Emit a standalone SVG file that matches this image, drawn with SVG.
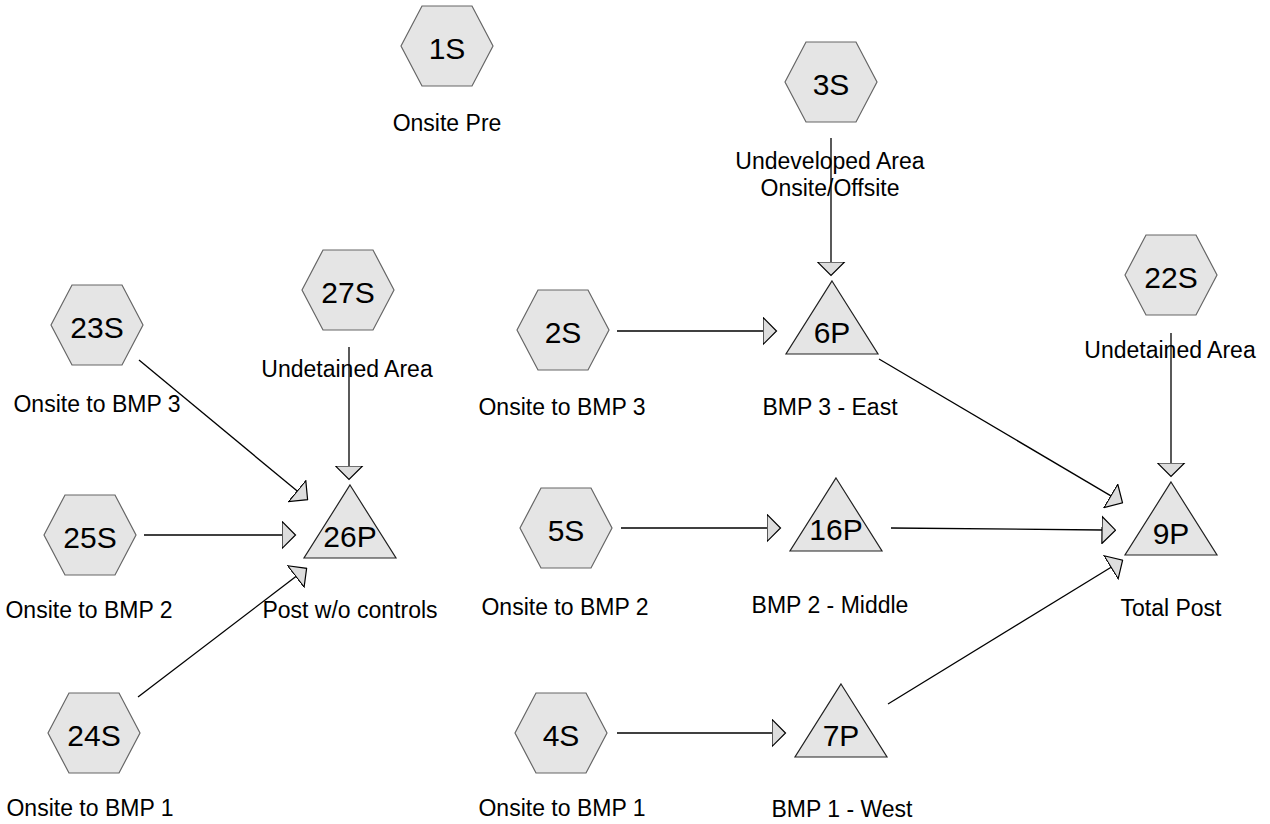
<svg xmlns="http://www.w3.org/2000/svg" width="1270" height="824" viewBox="0 0 1270 824">
<style>
.hex{fill:#e5e5e5;stroke:#666;stroke-width:1.2}
.tri{fill:#e5e5e5;stroke:#222;stroke-width:1.2}
.id{font-family:"Liberation Sans",Arial,sans-serif;font-size:30px;fill:#000;text-anchor:middle}
.lb{font-family:"Liberation Sans",Arial,sans-serif;font-size:23px;fill:#000;text-anchor:middle}
.cn{stroke:#000;stroke-width:1.3;fill:none;marker-end:url(#ah)}
</style>
<defs>
<polygon id="hx" points="-46,0 -25,-40 25,-40 46,0 25,40 -25,40"/>
<polygon id="tr" points="0,0 46,73 -46,73"/>
<marker id="ah" viewBox="0 0 15 29" refX="0.5" refY="14.5" markerWidth="15" markerHeight="29" markerUnits="userSpaceOnUse" orient="auto">
<path d="M0.5,1 L14,14.5 L0.5,28 Z" fill="#ddd" stroke="#000" stroke-width="1.2"/>
</marker>
</defs>
<rect width="1270" height="824" fill="#fff"/>
<g id="connectors">
<line class="cn" x1="349" y1="347" x2="349" y2="466"/>
<line class="cn" x1="831" y1="138" x2="831" y2="262"/>
<line class="cn" x1="1171" y1="333" x2="1171" y2="463"/>
<line class="cn" x1="139" y1="360" x2="297.2" y2="491.1"/>
<line class="cn" x1="144" y1="535" x2="282" y2="535"/>
<line class="cn" x1="138" y1="697" x2="295.9" y2="576.5"/>
<line class="cn" x1="617" y1="331" x2="763" y2="331"/>
<line class="cn" x1="621" y1="528" x2="767" y2="528"/>
<line class="cn" x1="617" y1="733" x2="772" y2="733"/>
<line class="cn" x1="879" y1="359" x2="1110.9" y2="495.9"/>
<line class="cn" x1="891" y1="528" x2="1102" y2="530"/>
<line class="cn" x1="888" y1="704" x2="1111.1" y2="567.3"/>
</g>
<g id="n1S"><use href="#hx" class="hex" x="447" y="46"/><text class="id" x="447" y="59">1S</text><text class="lb" x="447" y="131">Onsite Pre</text></g>
<g id="n3S"><use href="#hx" class="hex" x="831" y="82"/><text class="id" x="831" y="95">3S</text><text class="lb" x="830" y="169">Undeveloped Area</text><text class="lb" x="830" y="196">Onsite/Offsite</text></g>
<g id="n23S"><use href="#hx" class="hex" x="97" y="325"/><text class="id" x="97" y="338">23S</text><text class="lb" x="97" y="412">Onsite to BMP 3</text></g>
<g id="n27S"><use href="#hx" class="hex" x="348" y="290"/><text class="id" x="348" y="303">27S</text><text class="lb" x="347" y="377">Undetained Area</text></g>
<g id="n2S"><use href="#hx" class="hex" x="563" y="330"/><text class="id" x="563" y="343">2S</text><text class="lb" x="562" y="415">Onsite to BMP 3</text></g>
<g id="n22S"><use href="#hx" class="hex" x="1171" y="275"/><text class="id" x="1171" y="288">22S</text><text class="lb" x="1170" y="358">Undetained Area</text></g>
<g id="n25S"><use href="#hx" class="hex" x="90" y="535"/><text class="id" x="90" y="548">25S</text><text class="lb" x="89" y="618">Onsite to BMP 2</text></g>
<g id="n5S"><use href="#hx" class="hex" x="566" y="528"/><text class="id" x="566" y="541">5S</text><text class="lb" x="565" y="615">Onsite to BMP 2</text></g>
<g id="n24S"><use href="#hx" class="hex" x="94" y="733"/><text class="id" x="94" y="746">24S</text><text class="lb" x="90" y="816">Onsite to BMP 1</text></g>
<g id="n4S"><use href="#hx" class="hex" x="561" y="733"/><text class="id" x="561" y="746">4S</text><text class="lb" x="562" y="816">Onsite to BMP 1</text></g>
<g id="n26P"><use href="#tr" class="tri" x="350" y="485"/><text class="id" x="350" y="547">26P</text><text class="lb" x="350" y="618">Post w/o controls</text></g>
<g id="n6P"><use href="#tr" class="tri" x="832" y="281"/><text class="id" x="832" y="343">6P</text><text class="lb" x="830" y="415">BMP 3 - East</text></g>
<g id="n16P"><use href="#tr" class="tri" x="836" y="478"/><text class="id" x="836" y="540">16P</text><text class="lb" x="830" y="613">BMP 2 - Middle</text></g>
<g id="n7P"><use href="#tr" class="tri" x="841" y="684"/><text class="id" x="841" y="746">7P</text><text class="lb" x="842" y="817">BMP 1 - West</text></g>
<g id="n9P"><use href="#tr" class="tri" x="1171" y="482"/><text class="id" x="1171" y="544">9P</text><text class="lb" x="1171" y="616">Total Post</text></g>
</svg>
